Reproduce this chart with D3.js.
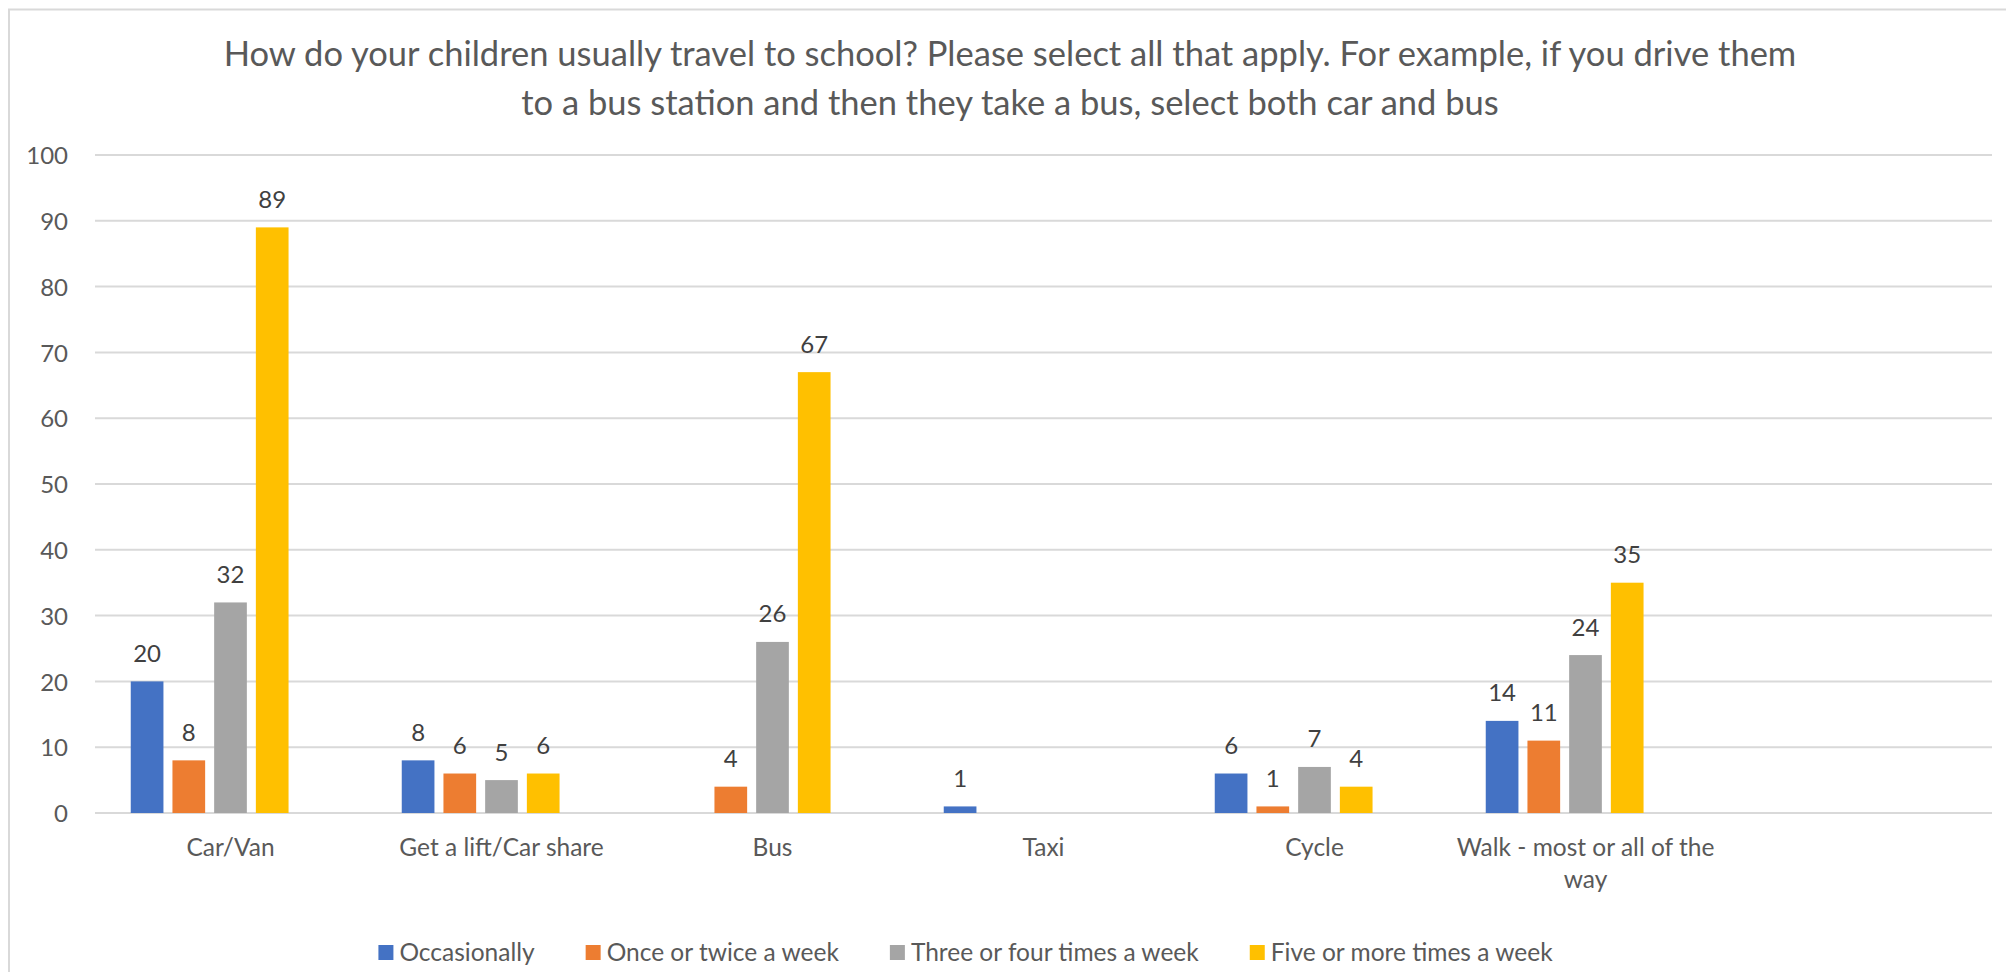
<!DOCTYPE html>
<html>
<head>
<meta charset="utf-8">
<script src="https://cdn.jsdelivr.net/npm/d3@7"></script>
<style>
  html, body { margin: 0; padding: 0; background: #ffffff; }
  svg { display: block; font-family: Lato, "Open Sans", sans-serif; }
</style>
</head>
<body>
<svg id="chart" width="2006" height="972"></svg>
<script>
// Survey answers: how children travel to school, by frequency
const titleLines = [
  "How do your children usually travel to school? Please select all that apply. For example, if you drive them",
  "to a bus station and then they take a bus, select both car and bus"
];
const categories = ["Car/Van", "Get a lift/Car share", "Bus", "Taxi", "Cycle", "Walk - most or all of the way", ""];
const seriesNames = ["Occasionally", "Once or twice a week", "Three or four times a week", "Five or more times a week"];
const occasionally = [20, 8, null, 1, 6, 14, null];
const onceOrTwice = [8, 6, 4, null, 1, 11, null];
const threeOrFour = [32, 5, 26, null, 7, 24, null];
const fiveOrMore = [89, 6, 67, null, 4, 35, null];
const yTicks = [0, 10, 20, 30, 40, 50, 60, 70, 80, 90, 100];
const colors = ["#4472C4", "#ED7D31", "#A5A5A5", "#FFC000"];

const seriesValues = [occasionally, onceOrTwice, threeOrFour, fiveOrMore];

const svg = d3.select("#chart");
const W = 2006, H = 972;

svg.append("rect").attr("width", W).attr("height", H).attr("fill", "#fff");
// chart area outline
svg.append("rect")
  .attr("x", 9).attr("y", 9.5).attr("width", 2100).attr("height", 1000)
  .attr("fill", "none").attr("stroke", "#D9D9D9").attr("stroke-width", 2);

// title
svg.append("g").selectAll("text").data(titleLines).join("text")
  .attr("x", 1010).attr("y", (d, i) => 66 + i * 49)
  .attr("text-anchor", "middle")
  .attr("fill", "#595959").attr("font-size", 34.5)
  .text(d => d);

const plot = { left: 95, right: 1992, top: 155, bottom: 813 };

const x0 = d3.scaleBand().domain(categories.map((d, i) => i))
  .range([plot.left, plot.right]).paddingInner(0).paddingOuter(0);

// each group keeps room for five bars; the last slot stays empty
const slots = d3.range(5);
const groupPad = 35.75;
const x1 = d3.scaleBand().domain(slots)
  .range([groupPad, x0.bandwidth() - groupPad]).paddingInner(0.216).paddingOuter(0);

const y = d3.scaleLinear().domain([0, 100]).range([plot.bottom, plot.top]);

// gridlines
svg.append("g").selectAll("line").data(yTicks).join("line")
  .attr("x1", plot.left).attr("x2", plot.right)
  .attr("y1", d => y(d)).attr("y2", d => y(d))
  .attr("stroke", "#D9D9D9").attr("stroke-width", 2);

// y axis labels
const yAxis = d3.axisLeft(y).tickValues(yTicks).tickSize(0).tickPadding(0);
const yg = svg.append("g").attr("transform", "translate(68,0)").call(yAxis);
yg.select(".domain").remove();
yg.selectAll("text").attr("font-size", 24).attr("fill", "#595959")
  .attr("font-family", "Lato, sans-serif").attr("dy", "0.36em");

// bars
const barData = [];
seriesValues.forEach((vals, s) => {
  vals.forEach((v, c) => {
    if (v !== null && v !== undefined) barData.push({ s, c, v });
  });
});

const bars = svg.append("g");
bars.selectAll("rect").data(barData).join("rect")
  .attr("x", d => x0(d.c) + x1(d.s))
  .attr("y", d => y(d.v))
  .attr("width", x1.bandwidth())
  .attr("height", d => y(0) - y(d.v))
  .attr("fill", d => colors[d.s]);

// value labels
bars.selectAll("text").data(barData).join("text")
  .attr("x", d => x0(d.c) + x1(d.s) + x1.bandwidth() / 2)
  .attr("y", d => y(d.v) - 19.5)
  .attr("text-anchor", "middle")
  .attr("font-size", 24).attr("fill", "#404040")
  .text(d => d.v);

// category labels, wrapped to the band width
const xg = svg.append("g");
const maxLabel = 268;
categories.forEach((cat, i) => {
  if (!cat) return;
  const cxl = x0(i) + x0.bandwidth() / 2;
  const t = xg.append("text")
    .attr("x", cxl)
    .attr("y", 856)
    .attr("text-anchor", "middle")
    .attr("font-size", 24.5).attr("fill", "#595959");
  const words = cat.split(" ");
  let line = [];
  let tspan = t.append("tspan").attr("x", cxl).attr("dy", 0);
  words.forEach(w => {
    line.push(w);
    tspan.text(line.join(" "));
    if (tspan.node().getComputedTextLength() > maxLabel && line.length > 1) {
      line.pop();
      tspan.text(line.join(" "));
      line = [w];
      tspan = t.append("tspan").attr("x", cxl).attr("dy", 32).text(w);
    }
  });
});

// legend
const legend = svg.append("g");
const items = seriesNames.map((name, i) => {
  const g = legend.append("g");
  g.append("rect").attr("width", 15).attr("height", 15).attr("y", -16).attr("fill", colors[i]);
  const t = g.append("text").attr("x", 21).attr("font-size", 24.5).attr("fill", "#595959").text(name);
  return { g, w: 21 + t.node().getComputedTextLength() };
});
const gap = 51;
const total = d3.sum(items, d => d.w) + gap * (items.length - 1);
let cx = 965.5 - total / 2;
items.forEach(it => {
  it.g.attr("transform", `translate(${cx},961)`);
  cx += it.w + gap;
});
</script>
</body>
</html>
